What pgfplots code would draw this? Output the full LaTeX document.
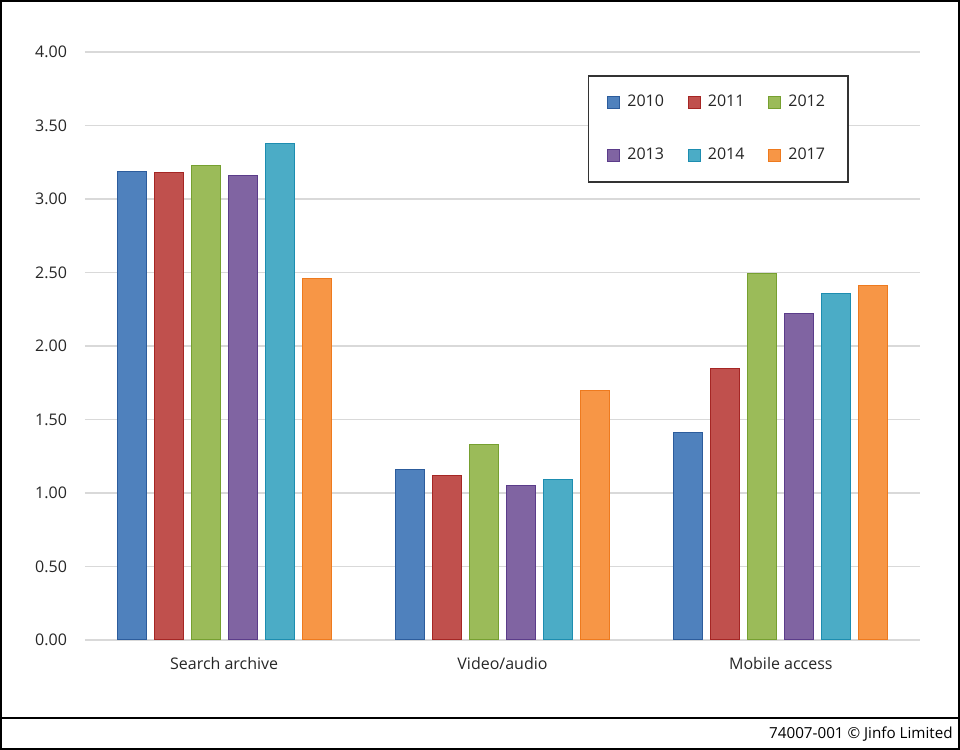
\documentclass[border=0pt]{standalone}
\usepackage{pgfplots}
\pgfplotsset{compat=1.18}
\usepackage{fontspec}
\setmainfont{Open Sans}
\definecolor{c1}{HTML}{4F81BD}\definecolor{e1}{HTML}{2C5C9C}
\definecolor{c2}{HTML}{C0504D}\definecolor{e2}{HTML}{A52624}
\definecolor{c3}{HTML}{9BBB59}\definecolor{e3}{HTML}{76A030}
\definecolor{c4}{HTML}{8064A2}\definecolor{e4}{HTML}{5B3C8A}
\definecolor{c5}{HTML}{4BACC6}\definecolor{e5}{HTML}{1D8DB0}
\definecolor{c6}{HTML}{F79646}\definecolor{e6}{HTML}{EE7A1E}
\definecolor{gridc}{HTML}{D9D9D9}
\definecolor{txt}{HTML}{262626}
\begin{document}
\begin{tikzpicture}
\useasboundingbox (0pt,0pt) rectangle (480pt,375pt);
\begin{axis}[
  at={(42.5pt,55pt)}, anchor=south west,
  scale only axis, width=417.5pt, height=294pt,
  ybar, ymin=0, ymax=4, xmin=-0.5, xmax=2.5,
  ytick={0,0.5,...,4},
  xtick={0,1,2}, xticklabels={Search archive, Video/audio, Mobile access},
  axis line style={draw=none},
  major tick length=0pt,
  ymajorgrids, grid style={gridc, line width=0.75pt},
  /pgf/number format/assume math mode=true,
  yticklabel={\pgfmathprintnumber[fixed,fixed zerofill,precision=2]{\tick}},
  tick label style={font=\fontsize{8}{9}\selectfont, text=txt},
  yticklabel style={xshift=-5.5pt},
  xticklabel style={yshift=-5pt},
  bar width=0.104,
  legend columns=3,
  legend cell align=left,
  legend style={at={(0.602,0.961)}, anchor=north west, draw=black!80, line width=0.8pt,
    font=\fontsize{8}{9}\selectfont, text=txt, inner xsep=9.5pt, inner ysep=7.5pt,
    /tikz/every even column/.append style={column sep=10pt},
    /tikz/row sep=15.5pt},
  legend image code/.code={\draw[#1, line width=0.4pt] (0pt,-3pt) rectangle (6pt,3pt); \path (7.5pt,0pt);},
]
\addplot[fill=c1, draw=e1, line width=0.5pt, bar shift=-0.3323] coordinates {(0,3.19) (1,1.16) (2,1.41)};
\addplot[fill=c2, draw=e2, line width=0.5pt, bar shift=-0.1994] coordinates {(0,3.18) (1,1.12) (2,1.85)};
\addplot[fill=c3, draw=e3, line width=0.5pt, bar shift=-0.0665] coordinates {(0,3.23) (1,1.33) (2,2.49)};
\addplot[fill=c4, draw=e4, line width=0.5pt, bar shift=0.0665] coordinates {(0,3.16) (1,1.05) (2,2.22)};
\addplot[fill=c5, draw=e5, line width=0.5pt, bar shift=0.1994] coordinates {(0,3.38) (1,1.09) (2,2.36)};
\addplot[fill=c6, draw=e6, line width=0.5pt, bar shift=0.3323] coordinates {(0,2.46) (1,1.70) (2,2.41)};
\legend{2010,2011,2012,2013,2014,2017}
\end{axis}
\draw[line width=1pt] (0.5pt,0.5pt) rectangle (479.5pt,374.5pt);
\draw[line width=0.6pt] (0pt,16pt) -- (480pt,16pt);
\node[anchor=east, font=\fontsize{7.6}{9}\selectfont, inner sep=0pt] at (476.5pt,8pt) {74007-001 © Jinfo Limited};
\end{tikzpicture}
\end{document}
